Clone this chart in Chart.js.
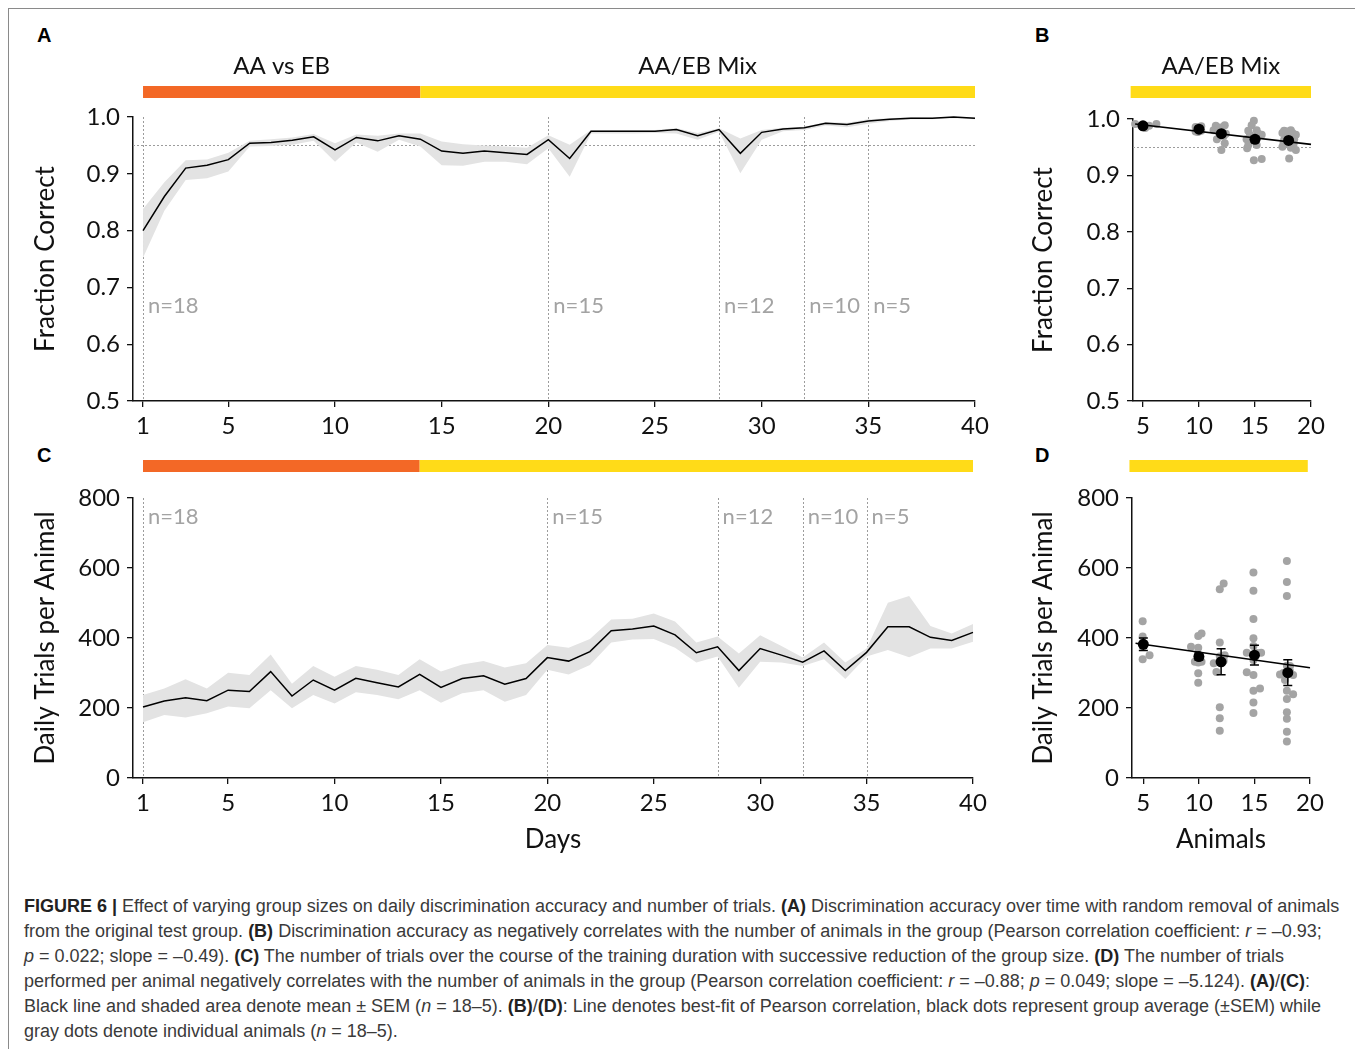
<!DOCTYPE html>
<html>
<head>
<meta charset="utf-8">
<script src="https://cdn.jsdelivr.net/npm/chart.js@4.4.0/dist/chart.umd.min.js"></script>
<style>
  body { margin:0; background:#fff; width:1355px; height:1049px; position:relative; overflow:hidden; }
  .frame { position:absolute; left:8px; top:8px; width:1400px; height:1100px; border-left:1px solid #8a8a8a; border-top:1px solid #8a8a8a; }
  canvas { position:absolute; }
  .letter { position:absolute; font:bold 20px 'Liberation Sans', Arial, sans-serif; line-height:20px; color:#000; }
  .caption { position:absolute; left:24px; top:894px; font:18px 'Liberation Sans', Arial, sans-serif; line-height:25px; color:#3a3a3a; white-space:nowrap; }
  .caption b { color:#222; }
</style>
</head>
<body>
<div class="frame"></div>
<div class="letter" style="left:37px;top:25px">A</div>
<div class="letter" style="left:1035px;top:25px">B</div>
<div class="letter" style="left:37px;top:445px">C</div>
<div class="letter" style="left:1035px;top:445px">D</div>

<canvas id="cA" width="1010" height="440" style="left:0;top:0"></canvas>
<canvas id="cB" width="345" height="440" style="left:1010px;top:0"></canvas>
<canvas id="cC" width="1010" height="430" style="left:0;top:440px"></canvas>
<canvas id="cD" width="345" height="430" style="left:1010px;top:440px"></canvas>

<div class="caption">
<b>FIGURE 6 |</b> Effect of varying group sizes on daily discrimination accuracy and number of trials. <b>(A)</b> Discrimination accuracy over time with random removal of animals<br>
from the original test group. <b>(B)</b> Discrimination accuracy as negatively correlates with the number of animals in the group (Pearson correlation coefficient: <i>r</i> = –0.93;<br>
<i>p</i> = 0.022; slope = –0.49). <b>(C)</b> The number of trials over the course of the training duration with successive reduction of the group size. <b>(D)</b> The number of trials<br>
performed per animal negatively correlates with the number of animals in the group (Pearson correlation coefficient: <i>r</i> = –0.88; <i>p</i> = 0.049; slope = –5.124). <b>(A)</b>/<b>(C)</b>:<br>
Black line and shaded area denote mean ± SEM (<i>n</i> = 18–5). <b>(B)</b>/<b>(D)</b>: Line denotes best-fit of Pearson correlation, black dots represent group average (±SEM) while<br>
gray dots denote individual animals (<i>n</i> = 18–5).
</div>

<script>
// ---- data ----
const days = [1,2,3,4,5,6,7,8,9,10,11,12,13,14,15,16,17,18,19,20,21,22,23,24,25,26,27,28,29,30,31,32,33,34,35,36,37,38,39,40];

const accMean = [0.800,0.860,0.910,0.915,0.925,0.954,0.955,0.959,0.965,0.942,0.964,0.958,0.967,0.961,0.940,0.936,0.940,0.937,0.934,0.960,
                 0.927,0.975,0.975,0.975,0.975,0.978,0.967,0.978,0.936,0.973,0.979,0.981,0.989,0.987,0.993,0.996,0.998,0.998,1.000,0.998];
const accHigh = [0.838,0.885,0.924,0.925,0.937,0.958,0.961,0.964,0.970,0.954,0.969,0.967,0.971,0.971,0.957,0.952,0.950,0.948,0.946,0.968,
                 0.951,0.977,0.977,0.977,0.977,0.980,0.972,0.980,0.962,0.977,0.981,0.983,0.991,0.990,0.996,0.998,1.000,0.999,1.001,0.999];
const accLow  = [0.752,0.835,0.889,0.892,0.904,0.948,0.949,0.951,0.958,0.921,0.955,0.939,0.960,0.948,0.915,0.914,0.921,0.921,0.917,0.945,
                 0.895,0.971,0.971,0.971,0.972,0.971,0.960,0.974,0.901,0.960,0.975,0.977,0.985,0.982,0.988,0.993,0.996,0.996,0.998,0.996];

const trialsMean = [203,220,229,221,251,247,304,234,280,251,285,272,260,296,259,284,292,268,284,344,
                    334,361,421,426,434,409,358,375,307,370,351,331,363,307,359,432,432,402,393,416];
const trialsHigh = [237,256,282,256,301,294,353,269,320,289,320,309,294,339,304,324,334,316,328,380,
                    372,397,453,455,470,447,387,404,356,408,377,344,387,330,370,501,520,434,413,440];
const trialsLow  = [159,180,173,185,204,199,251,199,237,213,245,237,225,251,215,242,251,218,237,309,
                    296,323,387,396,397,372,330,347,258,332,330,320,339,283,347,366,345,370,370,389];

const dayTicks = [1,5,10,15,20,25,30,35,40];
const removalDays = [1,20,28,32,35];
const nLabels = ['n=18','n=15','n=12','n=10','n=5'];

const groupSizes = [5,10,12,15,18];
const groupTicks = [5,10,15,20];

const accGroupMean = [0.988,0.982,0.974,0.964,0.962];
const accGroupSem  = [0.003,0.002,0.004,0.005,0.003];
const accFit = [[4.3,0.991],[20,0.955]];
const accDots = [
  [[4.3,0.991],[4.95,0.988],[5.55,0.988],[6.2,0.991],[5.2,0.984]],
  [[9.7,0.986],[10.2,0.987],[9.7,0.978],[10.2,0.979],[9.9,0.982],[10.0,0.984],[9.8,0.981],[10.1,0.980],[9.9,0.977],[10.0,0.986]],
  [[11.5,0.988],[12.3,0.989],[11.3,0.980],[11.7,0.978],[11.6,0.964],[12.3,0.957],[12.0,0.945],[12.1,0.975],[11.8,0.983],[12.2,0.970],[11.9,0.985],[12.4,0.974]],
  [[14.9,0.997],[14.7,0.989],[14.4,0.979],[15.15,0.980],[15.6,0.972],[14.25,0.964],[15.15,0.964],[14.3,0.948],[15.15,0.954],[14.9,0.927],[15.6,0.929],[14.55,0.972],[15.3,0.974],[14.8,0.968],[14.4,0.954]],
  [[17.6,0.979],[18.2,0.980],[18.65,0.972],[17.45,0.975],[17.45,0.951],[18.65,0.945],[17.9,0.957],[18.05,0.930],[18.35,0.975],[17.75,0.972],[18.5,0.964],[17.6,0.963],[18.15,0.968],[17.85,0.978],[18.45,0.956],[17.55,0.958],[18.2,0.949],[17.9,0.966]]
];

const trialsGroupMean = [382,347,332,351,301];
const trialsGroupSem  = [18,10,37,28,37];
const trialsFit = [[4.3,385],[20,315]];
const trialsDots = [
  [[4.94,448],[4.94,404],[4.94,339],[5.56,351],[4.94,377]],
  [[9.94,406],[10.24,413],[9.29,375],[9.94,372],[9.64,332],[10.24,332],[9.94,351],[9.94,299],[9.94,272],[9.94,330]],
  [[12.23,556],[11.88,539],[11.88,387],[11.34,328],[11.88,347],[12.32,351],[11.88,330],[11.88,202],[11.88,171],[11.88,135],[12.23,335],[11.58,303]],
  [[14.91,587],[14.91,535],[14.91,454],[14.91,399],[14.91,377],[14.31,358],[15.6,358],[14.91,337],[14.31,302],[14.91,294],[14.91,249],[15.5,256],[14.91,216],[14.91,186],[15.2,357]],
  [[17.92,620],[17.92,560],[17.92,520],[17.3,296],[18.48,294],[17.92,249],[18.48,239],[17.92,226],[17.92,188],[17.92,169],[17.92,132],[17.92,104],[17.92,295],[17.6,300],[18.2,305],[17.75,280],[18.2,320],[17.92,321]]
];

const accTicks = [0.5,0.6,0.7,0.8,0.9,1.0];
const trialTicks = [0,200,400,600,800];

// ---- styling ----
const FONT = 'Lato';
const INK = '#111';
const ORANGE = 'rgb(243,104,38)';
const YELLOW = 'rgb(255,219,24)';
const BAND = '#e3e3e3';
const DOT = '#a4a4a4';

const pts = (xs, ys) => xs.map((x, i) => ({x: x, y: ys[i]}));
const pairs = arr => arr.map(p => ({x: p[0], y: p[1]}));

function yAxis(min, max, ticks, fmt, title, titlePad, width) {
  return {
    type: 'linear', min: min, max: max,
    afterBuildTicks: s => { s.ticks = ticks.map(v => ({value: v})); },
    afterFit: s => { s.width = width; },
    ticks: { callback: fmt, font: {family: FONT, size: 24}, color: INK, padding: 7 },
    grid: { drawOnChartArea: false, tickLength: 6, color: INK, lineWidth: 1.3 },
    border: { color: INK, width: 1.5 },
    title: { display: true, text: title, color: INK, font: {family: FONT, size: 26}, padding: {top: titlePad, bottom: 0} }
  };
}

function xAxis(min, max, ticks, height, title) {
  return {
    type: 'linear', min: min, max: max,
    afterBuildTicks: s => { s.ticks = ticks.map(v => ({value: v})); },
    afterFit: s => { s.height = height; },
    ticks: { font: {family: FONT, size: 24}, color: INK, padding: 5, maxRotation: 0, autoSkip: false },
    grid: { drawOnChartArea: false, tickLength: 6, color: INK, lineWidth: 1.3 },
    border: { color: INK, width: 1.5 },
    title: title ? { display: true, text: title, color: INK, font: {family: FONT, size: 26}, padding: {top: 0, bottom: 2.4} } : { display: false }
  };
}

// dotted guides, n= labels, condition bars and error bars
const overlay = {
  id: 'overlay',
  beforeDatasetsDraw(chart, args, o) {
    const {ctx, chartArea: a, scales: {x, y}} = chart;
    ctx.save();
    ctx.strokeStyle = '#9c9c9c';
    ctx.lineWidth = 1;
    ctx.setLineDash([2, 2]);
    (o.vlines || []).forEach(d => {
      const px = Math.round(x.getPixelForValue(d)) + 0.5;
      ctx.beginPath(); ctx.moveTo(px, a.top); ctx.lineTo(px, a.bottom); ctx.stroke();
    });
    if (o.hline != null) {
      const py = Math.round(y.getPixelForValue(o.hline)) + 0.5;
      ctx.beginPath(); ctx.moveTo(a.left, py); ctx.lineTo(a.right, py); ctx.stroke();
    }
    ctx.setLineDash([]);
    ctx.fillStyle = '#a3a3a3';
    ctx.font = '22px ' + FONT;
    ctx.textAlign = 'left';
    ctx.textBaseline = 'alphabetic';
    (o.nLabels || []).forEach((t, i) => {
      ctx.fillText(t, x.getPixelForValue(o.vlines[i]) + 5, y.getPixelForValue(o.nY));
    });
    (o.phases || []).forEach(p => {
      const x0 = x.getPixelForValue(p.from), x1 = x.getPixelForValue(p.to);
      ctx.fillStyle = p.color;
      ctx.fillRect(x0, o.barTop, x1 - x0, 12);
      if (p.label) {
        ctx.fillStyle = INK;
        ctx.font = '24px ' + FONT;
        ctx.textAlign = 'center';
        ctx.fillText(p.label, (x0 + x1) / 2, o.titleY);
      }
    });
    ctx.restore();
  },
  afterDatasetsDraw(chart, args, o) {
    if (!o.errors) return;
    const {ctx, scales: {x, y}} = chart;
    const e = o.errors;
    ctx.save();
    ctx.strokeStyle = '#000';
    ctx.lineWidth = 1.5;
    e.x.forEach((gx, i) => {
      const px = x.getPixelForValue(gx);
      const top = y.getPixelForValue(e.mean[i] + e.sem[i]);
      const bot = y.getPixelForValue(e.mean[i] - e.sem[i]);
      ctx.beginPath();
      ctx.moveTo(px, top); ctx.lineTo(px, bot);
      ctx.moveTo(px - 4.5, top); ctx.lineTo(px + 4.5, top);
      ctx.moveTo(px - 4.5, bot); ctx.lineTo(px + 4.5, bot);
      ctx.stroke();
    });
    ctx.restore();
  }
};

function baseOptions(pad, scales, ov) {
  return {
    responsive: false,
    animation: false,
    events: [],
    layout: { padding: pad },
    scales: scales,
    plugins: { legend: {display: false}, tooltip: {enabled: false}, overlay: ov }
  };
}

function timeDatasets(mean, high, low) {
  return [
    { data: pts(days, mean), borderColor: '#000', borderWidth: 1.5, pointRadius: 0, fill: false, tension: 0, clip: false },
    { data: pts(days, high), borderColor: 'rgba(0,0,0,0)', borderWidth: 0, pointRadius: 0, backgroundColor: BAND, fill: '+1', clip: false },
    { data: pts(days, low), borderColor: 'rgba(0,0,0,0)', borderWidth: 0, pointRadius: 0, fill: false, clip: false }
  ];
}

function groupDatasets(means, fit, dots) {
  return [
    { data: pts(groupSizes, means), pointRadius: 5.5, pointBackgroundColor: '#000', pointBorderWidth: 0, clip: false },
    { data: pairs(fit), showLine: true, borderColor: '#000', borderWidth: 1.6, pointRadius: 0, clip: false },
    { data: pairs(dots.flat()), pointRadius: 4, pointBackgroundColor: DOT, pointBorderWidth: 0, clip: false }
  ];
}

const fmt1 = v => v.toFixed(1);
const fmt0 = v => String(v);

// A: accuracy over days
new Chart(document.getElementById('cA'), {
  type: 'line',
  data: { datasets: timeDatasets(accMean, accHigh, accLow) },
  options: baseOptions({top: 117, right: 35, bottom: 0, left: 0}, {
    x: xAxis(0.53, 40, dayTicks, 39, null),
    y: yAxis(0.5, 1.0, accTicks, fmt1, 'Fraction Correct', 30.4, 133)
  }, {
    vlines: removalDays, hline: 0.95, nLabels: nLabels, nY: 0.655,
    barTop: 86, titleY: 74,
    phases: [{from: 1, to: 14, color: ORANGE, label: 'AA vs EB'}, {from: 14, to: 40, color: YELLOW, label: 'AA/EB Mix'}]
  }),
  plugins: [overlay]
});

// B: accuracy vs group size
new Chart(document.getElementById('cB'), {
  type: 'scatter',
  data: { datasets: groupDatasets(accGroupMean, accFit, accDots) },
  options: baseOptions({top: 119, right: 44, bottom: 0, left: 0}, {
    x: xAxis(4.11, 20, groupTicks, 39, null),
    y: yAxis(0.5, 1.0, accTicks, fmt1, 'Fraction Correct', 18.4, 123)
  }, {
    hline: 0.95, barTop: 86, titleY: 74,
    phases: [{from: 3.9, to: 20, color: YELLOW, label: 'AA/EB Mix'}],
    errors: {x: groupSizes, mean: accGroupMean, sem: accGroupSem}
  }),
  plugins: [overlay]
});

// C: trials over days
new Chart(document.getElementById('cC'), {
  type: 'line',
  data: { datasets: timeDatasets(trialsMean, trialsHigh, trialsLow) },
  options: baseOptions({top: 58, right: 37, bottom: 12, left: 0}, {
    x: xAxis(0.53, 40, dayTicks, 80, 'Days'),
    y: yAxis(0, 800, trialTicks, fmt0, 'Daily Trials per Animal', 30.4, 133)
  }, {
    vlines: removalDays, nLabels: nLabels, nY: 726,
    barTop: 20,
    phases: [{from: 1, to: 14, color: ORANGE}, {from: 14, to: 40, color: YELLOW}]
  }),
  plugins: [overlay]
});

// D: trials vs group size
new Chart(document.getElementById('cD'), {
  type: 'scatter',
  data: { datasets: groupDatasets(trialsGroupMean, trialsFit, trialsDots) },
  options: baseOptions({top: 58, right: 45, bottom: 12, left: 0}, {
    x: xAxis(3.98, 20, groupTicks, 80, 'Animals'),
    y: yAxis(0, 800, trialTicks, fmt0, 'Daily Trials per Animal', 18.4, 122)
  }, {
    barTop: 20,
    phases: [{from: 3.75, to: 19.8, color: YELLOW}],
    errors: {x: groupSizes, mean: trialsGroupMean, sem: trialsGroupSem}
  }),
  plugins: [overlay]
});
</script>
</body>
</html>
